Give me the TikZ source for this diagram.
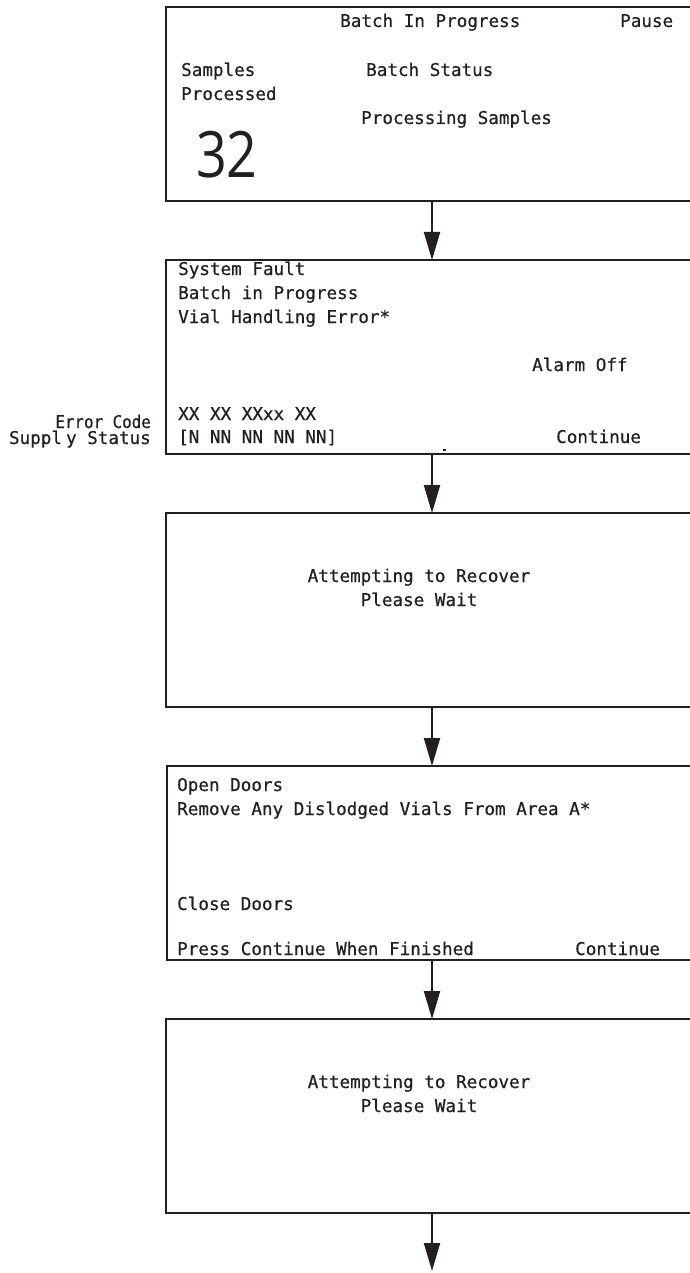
\documentclass[tikz,border=0pt]{standalone}
\usepackage{fontspec}
\usetikzlibrary{arrows.meta}
\newfontfamily\monofam[FakeBold=0.6]{DejaVu Sans Mono}
\newfontfamily\bigfam{Open Sans}
\definecolor{ink}{RGB}{35,31,32}
\begin{document}
\begin{tikzpicture}[x=1pt,y=-1pt,
  screen/.style={draw=ink,line width=2.4pt,minimum width=526pt,minimum height=194pt,inner sep=0pt,outer sep=0pt},
  txt/.style={anchor=base west,inner sep=0pt,text=ink,font=\monofam\fontsize{17.6}{20}\selectfont},
  ctxt/.style={anchor=base,inner sep=0pt,text=ink,font=\monofam\fontsize{17.6}{20}\selectfont},
  rtxt/.style={anchor=base east,inner sep=0pt,text=ink,font=\monofam\fontsize{17.6}{20}\selectfont},
  arr/.style={draw=ink,line width=2pt,-{Triangle[width=16pt,length=28pt]}}]
\useasboundingbox (0,0) rectangle (689,1273);
% boxes
\node[screen] (b1) at (429,104) {};
\node[screen] (b2) at (429,357) {};
\node[screen] (b3) at (429,610) {};
\node[screen] (b4) at (430,863) {};
\node[screen] (b5) at (429,1116) {};
% box 1
\node[txt] (t11) at (340,27) {Batch In Progress};
\node[txt] (t12) at (620,27) {Pause};
\node[txt] (t13) at (181,76) {Samples};
\node[txt] (t14) at (181,100) {Processed};
\node[txt] (t15) at (366,76) {Batch Status};
\node[txt] (t16) at (361,124) {Processing Samples};
\node[anchor=base west,inner sep=0pt,text=ink,font=\bigfam\fontsize{64}{70}\selectfont] (t17) at (196,178) {\scalebox{0.84}[1]{32}};
% box 2
\node[txt] (t21) at (178,275) {System Fault};
\node[txt] (t22) at (178,299) {Batch in Progress};
\node[txt] (t23) at (178,323) {Vial Handling Error*};
\node[txt] (t24) at (532,371) {Alarm Off};
\node[txt] (t25) at (178,420) {XX XX XXxx XX};
\node[txt] (t26) at (178,443) {[N NN NN NN NN]};
\node[txt] (t27) at (556,443) {Continue};
\node[rtxt] (l1) at (151,428) {\scalebox{0.9}[1]{Error Code}};
\node[rtxt] (l2) at (151,444) {Suppl\hspace{4pt}y Status};
\fill[ink] (443,449) rectangle (446,451);
% box 3
\node[ctxt] (t31) at (419,582) {Attempting to Recover};
\node[ctxt] (t32) at (419,606) {Please Wait};
% box 4
\node[txt] (t41) at (177,791) {Open Doors};
\node[txt] (t42) at (177,815) {Remove Any Dislodged Vials From Area A*};
\node[txt] (t43) at (177,910) {Close Doors};
\node[txt] (t44) at (177,955) {Press Continue When Finished};
\node[txt] (t45) at (575,955) {Continue};
% box 5
\node[ctxt] (t51) at (419,1088) {Attempting to Recover};
\node[ctxt] (t52) at (419,1112) {Please Wait};
% arrows
\coordinate (endpt) at (432,1271);
\draw[arr] ([xshift=3pt]b1.south) -- ([xshift=3pt]b2.north);
\draw[arr] ([xshift=3pt]b2.south) -- ([xshift=3pt]b3.north);
\draw[arr] ([xshift=3pt]b3.south) -- ([xshift=2pt]b4.north);
\draw[arr] ([xshift=2pt]b4.south) -- ([xshift=3pt]b5.north);
\draw[arr] ([xshift=3pt]b5.south) -- (endpt);
\end{tikzpicture}
\end{document}
